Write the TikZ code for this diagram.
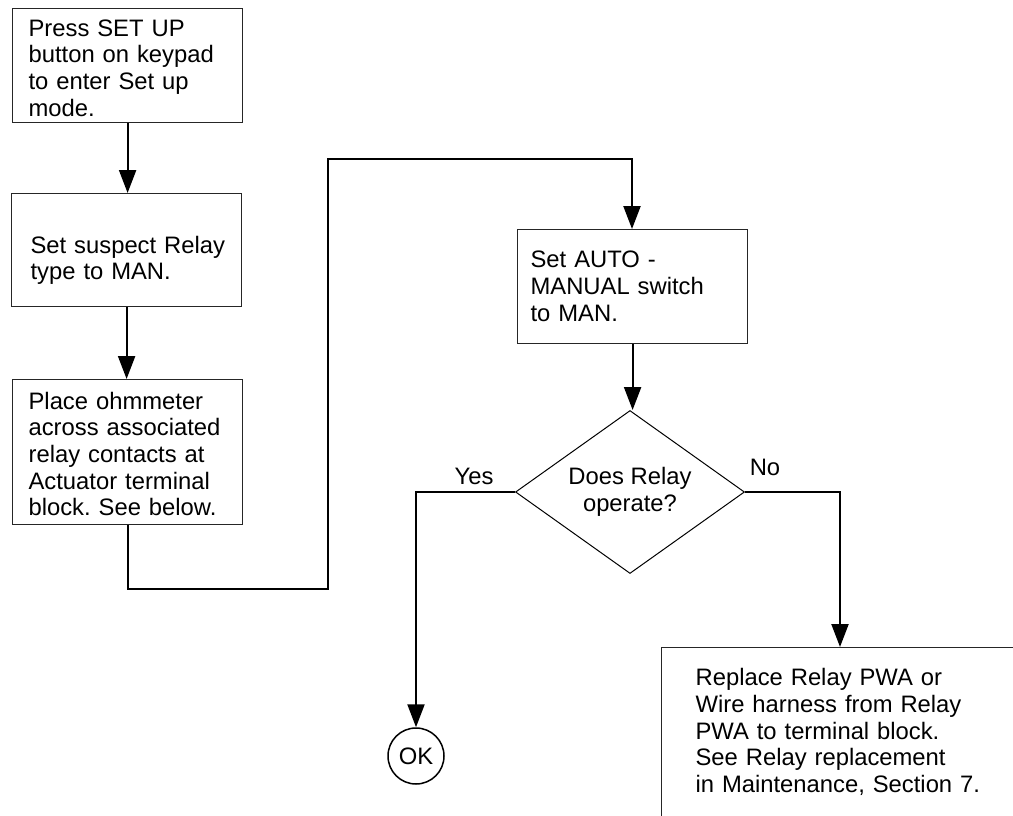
\documentclass[tikz,border=0pt]{standalone}
\usepackage{fontspec}
\setmainfont{Liberation Sans}
\usetikzlibrary{arrows.meta,shapes.geometric}
\tikzset{
  txt/.style={font=\fontsize{23.8}{26.7}\selectfont\frenchspacing},
  stepbox/.style={txt, draw=black!85, line width=1.2pt, anchor=north west, align=left, inner ysep=0pt},
  decision/.style={txt, draw=black, line width=1pt, shape=diamond, aspect=1.4, minimum width=229pt, minimum height=163pt, inner sep=0pt, align=center},
  endpt/.style={txt, draw=black, line width=1.5pt, circle, minimum size=56pt, inner sep=0pt},
  conn/.style={line width=2.2pt, draw=black},
  arr/.style={conn, -{Triangle[length=23pt,width=17pt]}},
  lbl/.style={txt, inner sep=0pt}
}
\begin{document}
\begin{tikzpicture}[x=1pt,y=-1pt]
\useasboundingbox (0,0) rectangle (1013,816);
\clip (0,0) rectangle (1013,816);
\fill[white] (0,0) rectangle (1013,816);

\node[stepbox, inner xsep=16pt, text width=198pt, text height=27.5pt, text depth=86.5pt] (b1) at (12,8)
  {\mbox{Press SET UP}\\\mbox{button on keypad}\\\mbox{to enter Set up}\\mode.};
\node[stepbox, inner xsep=19pt, text width=192pt, text height=59.5pt, text depth=53.5pt] (b2) at (11,193)
  {\mbox{Set suspect Relay}\\\mbox{type to MAN.}};
\node[stepbox, inner xsep=16pt, text width=198pt, text height=29.5pt, text depth=115.5pt] (b3) at (12,379)
  {\mbox{Place ohmmeter}\\\mbox{across associated}\\\mbox{relay contacts at}\\\mbox{Actuator terminal}\\\mbox{block. See below.}};
\node[stepbox, inner xsep=13pt, text width=204pt, text height=38pt, text depth=76pt] (b4) at (517,229)
  {\mbox{Set AUTO -}\\\mbox{MANUAL switch}\\\mbox{to MAN.}};
\node[decision] (d) at (630,492) {Does Relay\\operate?};
\node[endpt] (ok) at (416,756) {OK};
\node[stepbox, inner xsep=34pt, text width=300pt, text height=38pt, text depth=250pt] (rep) at (661,647)
  {\mbox{Replace Relay PWA or}\\\mbox{Wire harness from Relay}\\\mbox{PWA to terminal block.}\\\mbox{See Relay replacement}\\\mbox{in Maintenance, Section 7.}};

\node[lbl] (yes) at (474,476) {Yes};
\node[lbl] (no) at (765,467) {No};

\coordinate (j1) at (328,589);
\coordinate (j2) at (632,159);
\coordinate (nx) at (840,0);

\draw[arr] (b1.south) -- (b1.south |- b2.north);
\draw[arr] (b2.south) -- (b2.south |- b3.north);
\draw[arr] (b3.south) |- (j1) |- (j2) -- (j2 |- b4.north);
\draw[arr] (b4.south) -- (b4.south |- d.north);
\draw[arr] (d.west) -| (ok.north);
\draw[arr] (d.east) -| (nx |- rep.north);
\end{tikzpicture}
\end{document}
